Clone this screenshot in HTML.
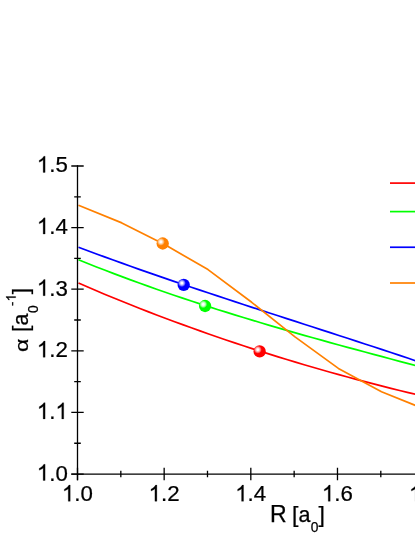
<!DOCTYPE html>
<html><head><meta charset="utf-8"><title>chart</title>
<style>
html,body{margin:0;padding:0;background:#fff;}
body{width:415px;height:537px;overflow:hidden;}
svg{display:block;}
g.txt{filter:grayscale(1);}
path.g1{fill:#000;stroke:#000;stroke-width:0.25px;vector-effect:non-scaling-stroke;}
text{font-family:"Liberation Sans",sans-serif;font-size:23.1px;fill:#000;stroke:#000;stroke-width:0.25px;}
</style></head><body>
<svg width="415" height="537" viewBox="0 0 415 537">
<defs>
<radialGradient id="gr" cx="0.35" cy="0.36" r="0.32" fx="0.35" fy="0.36"><stop offset="0" stop-color="#ffffff"/><stop offset="0.22" stop-color="#ffffff"/><stop offset="0.6" stop-color="#ff9a9a"/><stop offset="1" stop-color="#ff0000"/></radialGradient>
<radialGradient id="gg" cx="0.35" cy="0.36" r="0.32" fx="0.35" fy="0.36"><stop offset="0" stop-color="#ffffff"/><stop offset="0.22" stop-color="#ffffff"/><stop offset="0.6" stop-color="#a8ffa8"/><stop offset="1" stop-color="#00ff00"/></radialGradient>
<radialGradient id="gb" cx="0.35" cy="0.36" r="0.32" fx="0.35" fy="0.36"><stop offset="0" stop-color="#ffffff"/><stop offset="0.22" stop-color="#ffffff"/><stop offset="0.6" stop-color="#9a9aff"/><stop offset="1" stop-color="#0000ff"/></radialGradient>
<radialGradient id="go" cx="0.35" cy="0.36" r="0.32" fx="0.35" fy="0.36"><stop offset="0" stop-color="#ffffff"/><stop offset="0.22" stop-color="#ffffff"/><stop offset="0.6" stop-color="#ffc890"/><stop offset="1" stop-color="#ff8000"/></radialGradient>
</defs>
<rect width="415" height="537" fill="#fff"/>
<g fill="none" stroke-width="1.7" stroke-linejoin="round">
<path d="M78.50,283.09 L87.18,286.83 L95.86,290.52 L104.54,294.16 L113.22,297.74 L121.90,301.28 L130.58,304.77 L139.26,308.20 L147.94,311.59 L156.62,314.93 L165.29,318.22 L173.97,321.47 L182.65,324.66 L191.33,327.81 L200.01,330.92 L208.69,333.97 L217.37,336.99 L226.05,339.95 L234.73,342.88 L243.41,345.75 L252.09,348.59 L260.77,351.38 L269.45,354.13 L278.13,356.83 L286.81,359.50 L295.49,362.12 L304.17,364.70 L312.85,367.24 L321.53,369.74 L330.21,372.20 L338.88,374.61 L347.56,376.99 L356.24,379.34 L364.92,381.64 L373.60,383.90 L382.28,386.13 L390.96,388.32 L399.64,390.48 L408.32,392.60 L417.00,394.68" stroke="#ff0000"/>
<path d="M78.50,259.72 L87.18,263.23 L95.86,266.67 L104.54,270.06 L113.22,273.39 L121.90,276.66 L130.58,279.88 L139.26,283.05 L147.94,286.17 L156.62,289.23 L165.29,292.25 L173.97,295.22 L182.65,298.15 L191.33,301.04 L200.01,303.88 L208.69,306.68 L217.37,309.45 L226.05,312.18 L234.73,314.87 L243.41,317.53 L252.09,320.15 L260.77,322.75 L269.45,325.31 L278.13,327.85 L286.81,330.36 L295.49,332.85 L304.17,335.31 L312.85,337.75 L321.53,340.18 L330.21,342.58 L338.88,344.97 L347.56,347.34 L356.24,349.69 L364.92,352.04 L373.60,354.37 L382.28,356.69 L390.96,359.01 L399.64,361.32 L408.32,363.62 L417.00,365.92" stroke="#00ff00"/>
<path d="M78.50,247.26 L87.18,250.51 L95.86,253.72 L104.54,256.90 L113.22,260.05 L121.90,263.17 L130.58,266.26 L139.26,269.33 L147.94,272.37 L156.62,275.38 L165.29,278.38 L173.97,281.35 L182.65,284.30 L191.33,287.23 L200.01,290.14 L208.69,293.04 L217.37,295.92 L226.05,298.79 L234.73,301.65 L243.41,304.50 L252.09,307.33 L260.77,310.16 L269.45,312.99 L278.13,315.80 L286.81,318.61 L295.49,321.42 L304.17,324.23 L312.85,327.04 L321.53,329.85 L330.21,332.66 L338.88,335.48 L347.56,338.30 L356.24,341.12 L364.92,343.96 L373.60,346.80 L382.28,349.66 L390.96,352.53 L399.64,355.41 L408.32,358.30 L417.00,361.21" stroke="#0000ff"/>
<path d="M78.50,205.30 L121.80,222.90 L165.10,244.80 L208.00,269.60 L251.70,302.30 L295.00,336.90 L338.40,368.40 L381.50,391.80 L424.90,409.20" stroke="#ff8000"/>
<path d="M390,183.1 H416" stroke="#ff0000"/>
<path d="M390,211.6 H416" stroke="#00ff00"/>
<path d="M390,247.25 H416" stroke="#0000ff"/>
<path d="M390,283.0 H416" stroke="#ff8000"/>
</g>
<g fill="none" stroke="#000" stroke-width="1.3">
<path d="M77.5,165.35 V480.25 M71.3,474.05 H416"/>
<path d="M71.30,166.00 H83.70 M74.20,196.81 H80.80 M71.30,227.61 H83.70 M74.20,258.41 H80.80 M71.30,289.22 H83.70 M74.20,320.02 H80.80 M71.30,350.83 H83.70 M74.20,381.63 H80.80 M71.30,412.44 H83.70 M74.20,443.25 H80.80 M71.30,474.05 H83.70 M77.50,467.85 V480.25 M120.83,470.75 V477.35 M164.16,467.85 V480.25 M207.49,470.75 V477.35 M250.82,467.85 V480.25 M294.15,470.75 V477.35 M337.48,467.85 V480.25 M380.81,470.75 V477.35 M424.14,467.85 V480.25"/>
</g>
<circle cx="259.65" cy="351.4" r="6.15" fill="url(#gr)"/>
<circle cx="205.1" cy="306.0" r="6.15" fill="url(#gg)"/>
<circle cx="183.7" cy="284.8" r="6.15" fill="url(#gb)"/>
<circle cx="162.7" cy="243.5" r="6.15" fill="url(#go)"/>
<g class="txt">
<g><path class="g1" d="M763 0H583V1147Q518 1085 412.5 1023T223 930V1104Q374 1175 487 1276T647 1472H763V0Z" transform="translate(36.81,172.45) scale(0.01088,-0.01100)"/><text transform="translate(49.21,172.45) scale(0.965,0.975)">.</text><text transform="translate(55.41,172.45) scale(0.965,0.975)">5</text><path class="g1" d="M763 0H583V1147Q518 1085 412.5 1023T223 930V1104Q374 1175 487 1276T647 1472H763V0Z" transform="translate(36.81,234.06) scale(0.01088,-0.01100)"/><text transform="translate(49.21,234.06) scale(0.965,0.975)">.</text><text transform="translate(55.41,234.06) scale(0.965,0.975)">4</text><path class="g1" d="M763 0H583V1147Q518 1085 412.5 1023T223 930V1104Q374 1175 487 1276T647 1472H763V0Z" transform="translate(36.81,295.67) scale(0.01088,-0.01100)"/><text transform="translate(49.21,295.67) scale(0.965,0.975)">.</text><text transform="translate(55.41,295.67) scale(0.965,0.975)">3</text><path class="g1" d="M763 0H583V1147Q518 1085 412.5 1023T223 930V1104Q374 1175 487 1276T647 1472H763V0Z" transform="translate(36.81,357.28) scale(0.01088,-0.01100)"/><text transform="translate(49.21,357.28) scale(0.965,0.975)">.</text><text transform="translate(55.41,357.28) scale(0.965,0.975)">2</text><path class="g1" d="M763 0H583V1147Q518 1085 412.5 1023T223 930V1104Q374 1175 487 1276T647 1472H763V0Z" transform="translate(36.81,418.89) scale(0.01088,-0.01100)"/><text transform="translate(49.21,418.89) scale(0.965,0.975)">.</text><path class="g1" d="M763 0H583V1147Q518 1085 412.5 1023T223 930V1104Q374 1175 487 1276T647 1472H763V0Z" transform="translate(55.41,418.89) scale(0.01088,-0.01100)"/><path class="g1" d="M763 0H583V1147Q518 1085 412.5 1023T223 930V1104Q374 1175 487 1276T647 1472H763V0Z" transform="translate(36.81,480.50) scale(0.01088,-0.01100)"/><text transform="translate(49.21,480.50) scale(0.965,0.975)">.</text><text transform="translate(55.41,480.50) scale(0.965,0.975)">0</text></g>
<g><path class="g1" d="M763 0H583V1147Q518 1085 412.5 1023T223 930V1104Q374 1175 487 1276T647 1472H763V0Z" transform="translate(61.91,501.30) scale(0.01088,-0.01100)"/><text transform="translate(74.30,501.30) scale(0.965,0.975)">.</text><text transform="translate(80.50,501.30) scale(0.965,0.975)">0</text><path class="g1" d="M763 0H583V1147Q518 1085 412.5 1023T223 930V1104Q374 1175 487 1276T647 1472H763V0Z" transform="translate(148.57,501.30) scale(0.01088,-0.01100)"/><text transform="translate(160.96,501.30) scale(0.965,0.975)">.</text><text transform="translate(167.16,501.30) scale(0.965,0.975)">2</text><path class="g1" d="M763 0H583V1147Q518 1085 412.5 1023T223 930V1104Q374 1175 487 1276T647 1472H763V0Z" transform="translate(235.23,501.30) scale(0.01088,-0.01100)"/><text transform="translate(247.62,501.30) scale(0.965,0.975)">.</text><text transform="translate(253.82,501.30) scale(0.965,0.975)">4</text><path class="g1" d="M763 0H583V1147Q518 1085 412.5 1023T223 930V1104Q374 1175 487 1276T647 1472H763V0Z" transform="translate(321.89,501.30) scale(0.01088,-0.01100)"/><text transform="translate(334.28,501.30) scale(0.965,0.975)">.</text><text transform="translate(340.48,501.30) scale(0.965,0.975)">6</text><path class="g1" d="M763 0H583V1147Q518 1085 412.5 1023T223 930V1104Q374 1175 487 1276T647 1472H763V0Z" transform="translate(408.95,501.30) scale(0.01088,-0.01100)"/><text transform="translate(421.34,501.30) scale(0.965,0.975)">.</text><text transform="translate(427.54,501.30) scale(0.965,0.975)">8</text></g>
<g id="xl">
<text x="270.1" y="522">R</text>
<text x="292.1" y="0" transform="translate(0,521.8) scale(1,0.925)">[</text>
<text x="298.6" y="522" style="font-size:21.5px">a</text>
<text x="310.7" y="531.8" style="font-size:13.8px">0</text>
<text x="318.6" y="0" transform="translate(0,521.8) scale(1,0.925)">]</text>
</g>
<g id="yl" transform="translate(27.6,351) rotate(-90)">
<text x="-1.0" y="0" transform="scale(1,0.8)" style="font-size:23.0px">α</text>
<text x="19.0" y="0" transform="scale(1,0.925)">[</text>
<text x="25.6" y="0" style="font-size:21.5px">a</text>
<text x="37.9" y="10.5" style="font-size:13.8px">0</text>
<text x="45.0" y="-11.5" style="font-size:13.3px">-</text>
<path class="g1" d="M763 0H583V1147Q518 1085 412.5 1023T223 930V1104Q374 1175 487 1276T647 1472H763V0Z" transform="translate(49.5,-11.9) scale(0.00659,-0.00659)"/>
<text x="56.75" y="0" transform="scale(1,0.925)">]</text>
</g>
</g>
</svg>
</body></html>
